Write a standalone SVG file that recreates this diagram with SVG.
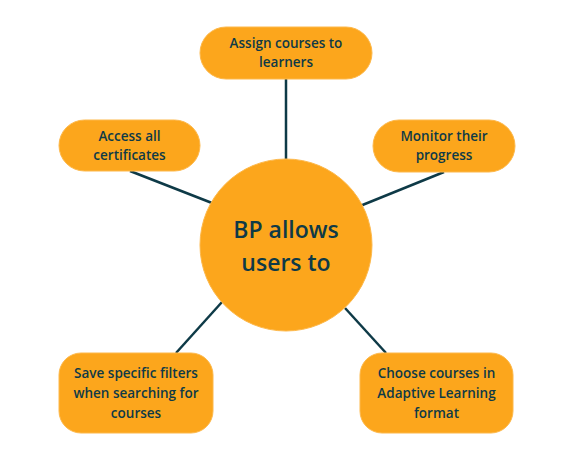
<svg xmlns="http://www.w3.org/2000/svg" width="568" height="459" viewBox="0 0 568 459">
<style>
.box{fill:#FCA61C;stroke:#FDB84A;stroke-width:1}
.t{font-family:"Open Sans","Noto Sans",sans-serif;font-weight:600;font-size:13.5px;fill:#0E3A47;text-anchor:middle}
.big{font-size:23px}
.c{stroke:#0E3A47;stroke-width:2.5;fill:none}
</style>
<rect width="568" height="459" fill="#FFFFFF"/>
<g id="connectors">
<line class="c" x1="286" y1="79" x2="286" y2="160"/>
<line class="c" x1="130" y1="171" x2="212" y2="203"/>
<line class="c" x1="444" y1="172" x2="360" y2="206"/>
<line class="c" x1="222" y1="302" x2="176" y2="353"/>
<line class="c" x1="345" y1="308" x2="386" y2="353"/>
</g>
<g id="center">
<circle class="box" cx="286" cy="245" r="86"/>
<text class="t big" x="286" y="238">BP allows</text>
<text class="t big" x="286" y="271">users to</text>
</g>
<g id="assign">
<rect class="box" x="200" y="27" width="172" height="52" rx="26"/>
<text class="t" x="286" y="48">Assign courses to</text>
<text class="t" x="286" y="67">learners</text>
</g>
<g id="access">
<rect class="box" x="59" y="120" width="141" height="51" rx="25.5"/>
<text class="t" x="129.5" y="141">Access all</text>
<text class="t" x="129.5" y="160">certificates</text>
</g>
<g id="monitor">
<rect class="box" x="373" y="120" width="142" height="52" rx="26"/>
<text class="t" x="444" y="141">Monitor their</text>
<text class="t" x="444" y="160">progress</text>
</g>
<g id="save">
<rect class="box" x="59" y="353" width="154" height="80" rx="22"/>
<text class="t" x="136" y="378">Save specific filters</text>
<text class="t" x="136" y="398">when searching for</text>
<text class="t" x="136" y="418">courses</text>
</g>
<g id="choose">
<rect class="box" x="360" y="353" width="153" height="80" rx="22"/>
<text class="t" x="436.5" y="378">Choose courses in</text>
<text class="t" x="436.5" y="398">Adaptive Learning</text>
<text class="t" x="436.5" y="418">format</text>
</g>
</svg>
